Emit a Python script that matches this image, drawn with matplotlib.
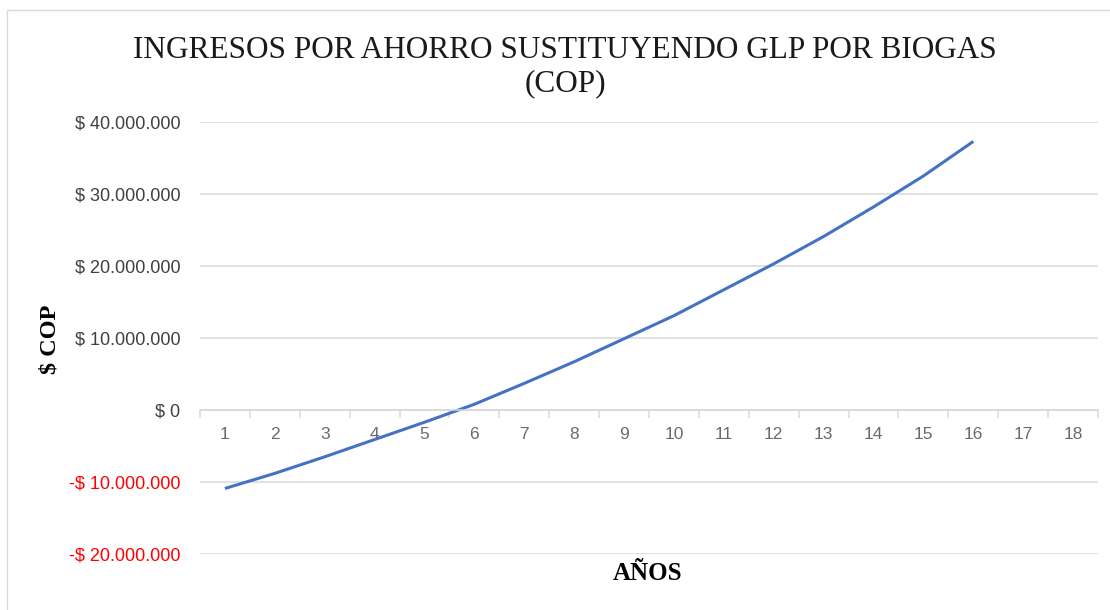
import matplotlib.pyplot as plt
from matplotlib.patches import Rectangle

years = list(range(1, 17))
ingresos = [-10.9e6, -8.8e6, -6.5e6, -4.1e6, -1.7e6, 0.8e6, 3.7e6, 6.7e6,
            9.9e6, 13.1e6, 16.7e6, 20.3e6, 24.1e6, 28.2e6, 32.5e6, 37.3e6]
x_labels = [str(i) for i in range(1, 19)]
y_ticks = [-20e6, -10e6, 0, 10e6, 20e6, 30e6, 40e6]


def cop(v):
    s = "{:,.0f}".format(abs(v)).replace(",", ".")
    return ("-$ " if v < 0 else "$ ") + s


fig = plt.figure(figsize=(11.1, 6.1), dpi=100)
fig.patches.append(Rectangle((7 / 1110, -0.1), 1.2, 1.1 - 10 / 610,
                             transform=fig.transFigure, fill=False,
                             edgecolor="#d9d9d9", lw=1.0))

ax = fig.add_axes([200 / 1110, 1 - 554 / 610, 898 / 1110, 432 / 610])
ax.plot(years, ingresos, color="#4472C4", lw=2.2, solid_capstyle="butt")

ax.set_xlim(0.5, 18.5)
ax.set_ylim(-20e6, 40e6)
ax.set_yticks(y_ticks)
ax.set_yticklabels([cop(v) for v in y_ticks], fontsize=13, family="Liberation Sans")
for lab, v in zip(ax.get_yticklabels(), y_ticks):
    lab.set_color("#ff0000" if v < 0 else "#404040")
ax.tick_params(axis="y", length=0, pad=14)
ax.grid(axis="y", color="#d9d9d9", lw=1.1)
ax.set_axisbelow(True)

# category axis crossing at zero
ax.spines["bottom"].set_position(("data", 0))
ax.spines["bottom"].set_color("#d9d9d9")
ax.spines["bottom"].set_linewidth(1.1)
for s in ["top", "right", "left"]:
    ax.spines[s].set_visible(False)
ax.set_xticks(range(1, 19))
ax.set_xticklabels(x_labels, fontsize=12.5, color="#6a6a6a", family="Liberation Sans")
ax.set_xticks([i + 0.5 for i in range(0, 19)], minor=True)
ax.tick_params(axis="x", which="major", length=0, pad=12)
ax.tick_params(axis="x", which="minor", length=6, color="#d9d9d9", width=1.1)

fig.text(0.509, 1 - 50 / 610, "INGRESOS POR AHORRO SUSTITUYENDO GLP POR BIOGAS",
         ha="center", va="center", fontsize=22.5, family="Liberation Serif", color="#1a1a1a")
fig.text(0.509, 1 - 84 / 610, "(COP)",
         ha="center", va="center", fontsize=22.5, family="Liberation Serif", color="#1a1a1a")
fig.text(50 / 1110, 1 - 339 / 610, "$ COP", rotation=90, ha="center", va="center",
         fontsize=17.5, fontweight="bold", family="Liberation Serif")
fig.text(648 / 1110, 1 - 574 / 610, "AÑOS", ha="center", va="center",
         fontsize=18, fontweight="bold", family="Liberation Serif")

plt.savefig("out.png", dpi=100)
